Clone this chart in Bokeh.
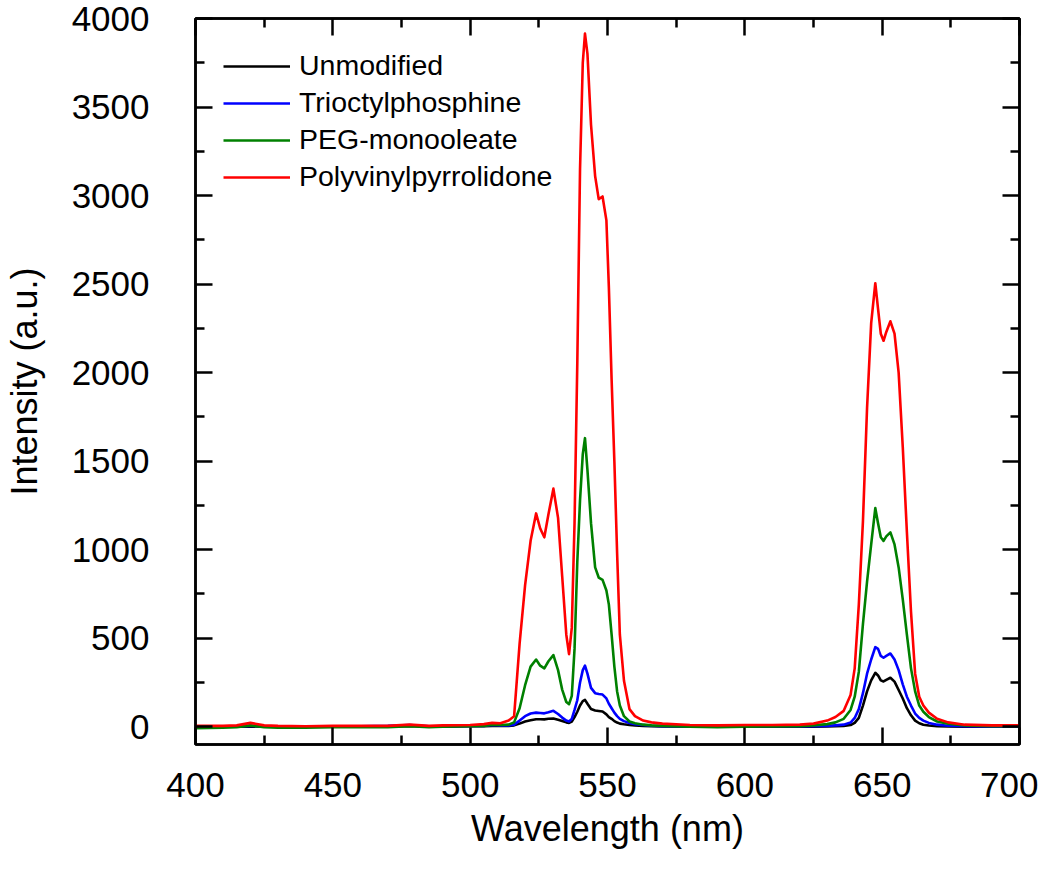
from bokeh.plotting import figure
from bokeh.models import (Range1d, LinearAxis, FixedTicker, Legend, LegendItem)
from bokeh.embed import file_html
from bokeh.resources import INLINE

# ---------------- data ----------------
wavelength = [
    400, 410, 415, 420, 425, 430, 440, 450, 460, 470,
    478, 485, 490, 500, 505, 508, 511, 514, 516,
    518, 520, 522, 524, 525.5, 527, 528.5, 530.3, 532, 533.5, 535,
    536, 537, 538, 539, 540, 541, 541.8, 542.7, 544, 545.5,
    546.8, 548.2, 549.6, 550.5, 551.5, 552.5, 553.5, 554.5, 556, 558,
    560, 563, 566, 570, 580, 590, 600, 610, 620, 625,
    630, 633, 636, 638.5, 640, 641.5, 643, 644.5, 646, 647.5,
    648.5, 649.5, 650.5, 651.5, 653, 654.5, 656, 657.5, 659, 660.5,
    662, 663.5, 665, 667, 670, 674, 680, 690, 700,
]

unmodified = [
    0, 0, 0, 2, 0, 0, 0, 0, 0, 2,
    5, 0, 0, 3, 3, 5, 5, 5, 8,
    18, 30, 37, 43, 43, 42, 45, 47, 40, 33, 25,
    22, 30, 55, 85, 120, 145, 152, 130, 100, 92,
    89, 86, 70, 55, 45, 32, 24, 18, 14, 10,
    7, 5, 3, 2, 0, 0, 0, 0, 0, 0,
    2, 3, 5, 10, 22, 50, 120, 200, 262, 305,
    290, 262, 256, 265, 277, 255, 208, 160, 105, 65,
    35, 20, 12, 7, 4, 2, 0, 0, 0,
]

trioctylphosphine = [
    3, 3, 3, 5, 3, 3, 3, 3, 3, 5,
    10, 3, 3, 5, 5, 10, 8, 8, 12,
    35, 60, 75, 80, 78, 76, 82, 90, 72, 52, 35,
    30, 45, 95, 150, 250, 320, 345, 300, 220, 190,
    185, 182, 160, 130, 105, 80, 60, 45, 32, 22,
    15, 10, 6, 4, 2, 2, 3, 3, 3, 3,
    5, 8, 12, 24, 50, 100, 190, 300, 380, 450,
    440, 400, 390, 400, 414, 380, 320, 240, 170, 120,
    75, 50, 35, 22, 12, 6, 3, 2, 2,
]

peg_monooleate = [
    -8, -5, -3, 8, -3, -5, -5, -3, -3, -3,
    3, -2, 0, 3, 5, 12, 10, 12, 25,
    105, 235, 340, 380, 345, 330, 370, 405, 320, 210, 140,
    128, 175, 440, 930, 1280, 1540, 1630, 1450, 1150, 900,
    843, 830, 770, 690, 520, 340, 200, 120, 60, 30,
    20, 12, 8, 5, 0, -3, 0, 2, 3, 8,
    15, 25, 45, 95, 170, 310, 580, 820, 1030, 1235,
    1150, 1070, 1050, 1075, 1098, 1030, 900, 720, 520, 330,
    200, 120, 85, 55, 30, 18, 8, 3, 3,
]

polyvinylpyrrolidone = [
    5, 5, 8, 22, 8, 5, 3, 5, 5, 5,
    12, 5, 8, 10, 15, 22, 20, 35, 60,
    470, 800, 1050, 1205, 1120, 1070, 1200, 1345, 1180, 850, 520,
    410, 560, 1150, 2050, 3150, 3750, 3915, 3800, 3400, 3110,
    2980, 2995, 2860, 2480, 1960, 1500, 980, 520, 260, 100,
    60, 35, 25, 18, 10, 8, 10, 10, 12, 18,
    35, 55, 90, 180, 330, 690, 1160, 1800, 2280, 2505,
    2360, 2220, 2180, 2230, 2290, 2220, 2000, 1580, 1100, 650,
    300, 170, 120, 80, 45, 25, 12, 8, 8,
]

series_names = ["Unmodified", "Trioctylphosphine", "PEG-monooleate", "Polyvinylpyrrolidone"]
series_values = [unmodified, trioctylphosphine, peg_monooleate, polyvinylpyrrolidone]
series_colors = ["#000000", "#0000FF", "#008000", "#FF0000"]

x_ticks = [400, 450, 500, 550, 600, 650, 700]
x_minor = [425, 475, 525, 575, 625, 675]
y_ticks = [0, 500, 1000, 1500, 2000, 2500, 3000, 3500, 4000]
y_minor = [250, 750, 1250, 1750, 2250, 2750, 3250, 3750]

FONT = "Liberation Sans"

# ---------------- figure ----------------
p = figure(width=1038, height=868, output_backend="svg", toolbar_location=None,
           x_range=Range1d(400, 700), y_range=Range1d(-100, 4000),
           min_border_left=193, min_border_right=19, min_border_top=18,
           min_border_bottom=124)
p.xgrid.visible = False
p.ygrid.visible = False
p.outline_line_color = "black"
p.outline_line_width = 2.5
p.background_fill_color = "white"
p.border_fill_color = "white"

renderers = []
for vals, col in zip(series_values, series_colors):
    r = p.line(wavelength, vals, line_color=col, line_width=2.6, line_join="round")
    renderers.append(r)

def style_axis(ax, show_labels, ticks=None):
    ax.axis_line_color = "black"
    ax.axis_line_width = 2.5
    ax.major_tick_in = 17
    ax.major_tick_out = 0
    ax.minor_tick_in = 9
    ax.minor_tick_out = 0
    ax.major_tick_line_width = 2.5
    ax.minor_tick_line_width = 2.5
    ax.major_tick_line_color = "black"
    ax.minor_tick_line_color = "black"
    if show_labels:
        ax.major_label_text_font = FONT
        ax.major_label_text_font_size = "35px"
        ax.major_label_text_color = "black"
        ax.axis_label_text_font = FONT
        ax.axis_label_text_font_size = "36px"
        ax.axis_label_text_font_style = "normal"
        ax.axis_label_text_color = "black"
    else:
        ax.major_label_overrides = {t: "" for t in ticks}
        ax.major_label_text_font_size = "1px"
        ax.major_label_standoff = 0

xb = p.xaxis[0]
xb.ticker = FixedTicker(ticks=x_ticks, minor_ticks=x_minor)
xb.axis_label = "Wavelength (nm)"
style_axis(xb, True)
xb.major_label_standoff = 28
xb.axis_label_standoff = 8

yl = p.yaxis[0]
yl.ticker = FixedTicker(ticks=y_ticks, minor_ticks=y_minor)
yl.axis_label = "Intensity (a.u.)"
style_axis(yl, True)
yl.major_label_standoff = 46
yl.axis_label_standoff = 24

xa = LinearAxis(ticker=FixedTicker(ticks=x_ticks, minor_ticks=x_minor))
style_axis(xa, False, x_ticks)
p.add_layout(xa, "above")

yr = LinearAxis(ticker=FixedTicker(ticks=y_ticks, minor_ticks=y_minor))
style_axis(yr, False, y_ticks)
p.add_layout(yr, "right")

legend = Legend(items=[LegendItem(label=n, renderers=[r]) for n, r in zip(series_names, renderers)],
                location=(28, 551), border_line_color=None, background_fill_alpha=0,
                label_text_font=FONT, label_text_font_size="28.5px", label_text_color="black",
                glyph_width=67, glyph_height=30, label_height=30, label_standoff=9,
                spacing=4, padding=0, margin=0)
p.add_layout(legend, "center")

open("out.html", "w").write(file_html(p, INLINE))
